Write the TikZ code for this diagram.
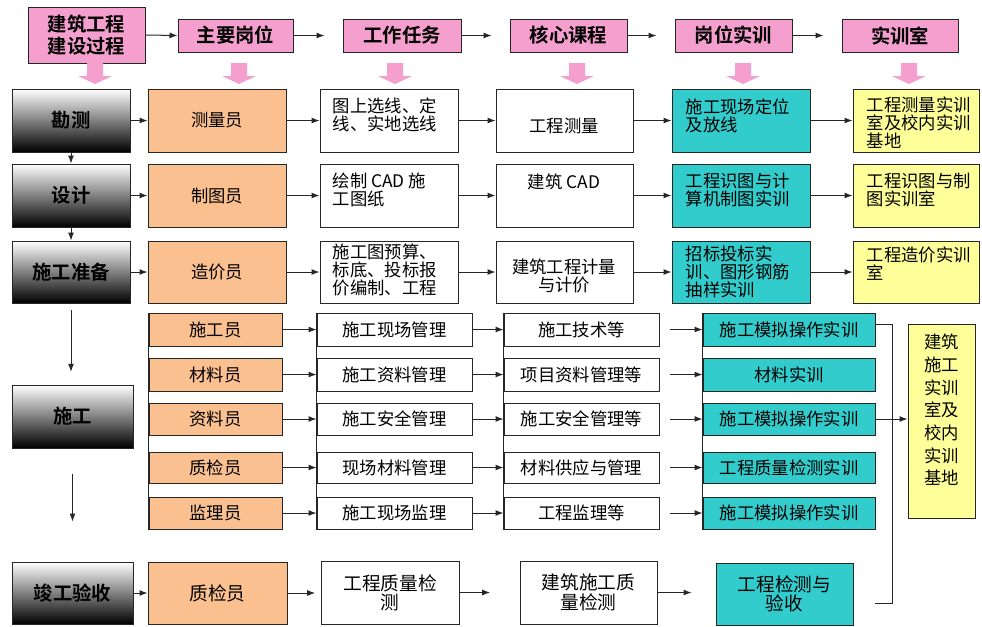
\documentclass[tikz,border=0pt]{standalone}
\usepackage{fontspec}
\setmainfont{Noto Sans CJK SC}[BoldFont={Noto Sans CJK SC Bold}]
\usetikzlibrary{arrows.meta}
\definecolor{pinkc}{HTML}{F59FCF}
\definecolor{tanc}{HTML}{FAC090}
\definecolor{tealc}{HTML}{33CCCC}
\definecolor{yelc}{HTML}{FFFF99}
\newcommand\bx[7]{\node[#2, minimum width={(#5-#3)*0.75pt}, minimum height={(#6-#4)*0.75pt}] (#1) at ({(#3+#5)/2},{(#4+#6)/2}) {#7};}
\newcommand\pdown[1]{\fill[pinkc] ({#1-8},63) -- ({#1+8},63) -- ({#1+8},76) -- ({#1+17},76) -- (#1,84) -- ({#1-17},76) -- ({#1-8},76) -- cycle;}
\begin{document}
\begin{tikzpicture}[x=0.75pt,y=-0.75pt,
  base/.style={draw=black!85, line width=0.75pt, inner sep=1pt, align=center, text=black},
  hdr/.style={base, fill=pinkc, font=\fontsize{14.5}{16.5}\selectfont\bfseries},
  grad/.style={base, top color=white, bottom color=black, font=\fontsize{14.5}{17}\selectfont\bfseries},
  tanb/.style={base, fill=tanc, font=\fontsize{13}{13.5}\selectfont},
  wbox/.style={base, fill=white, font=\fontsize{13}{13.5}\selectfont},
  tealb/.style={base, fill=tealc, font=\fontsize{13}{13.5}\selectfont},
  yelb/.style={base, fill=yelc, font=\fontsize{13}{13.5}\selectfont},
  bot/.style={font=\fontsize{14}{14.5}\selectfont},
  txt/.style={inner sep=0pt, align=left, text=black, font=\fontsize{13}{13.5}\selectfont},
  arr/.style={-{Latex[length=6pt,width=4.5pt]}, line width=0.75pt, draw=black!85},
  ln/.style={line width=0.75pt, draw=black!85}]
\useasboundingbox[fill=white] (0,0) rectangle (982,626);

% header row
\bx{h1}{hdr}{28}{7}{145}{63}{建筑工程\\建设过程}
\bx{h2}{hdr}{178}{19}{293}{52}{主要岗位}
\bx{h3}{hdr}{343}{19}{461}{52}{工作任务}
\bx{h4}{hdr}{510}{19}{627}{52}{核心课程}
\bx{h5}{hdr}{675}{19}{792}{52}{岗位实训}
\bx{h6}{hdr}{842}{19}{958}{52}{实训室}
\draw[arr] (h1.east) -- (h2.west);
\draw[arr, shorten >=13.5pt] (h2) -- (h3);
\draw[arr, shorten >=13.5pt] (h3) -- (h4);
\draw[arr, shorten >=13.5pt] (h4) -- (h5);
\draw[arr, shorten >=13.5pt] (h5) -- (h6);

\pdown{95}\pdown{239}\pdown{395}\pdown{577}\pdown{743}\pdown{909}

% row 1
\bx{k1}{grad}{12}{89}{130}{152}{勘测}
\bx{p1}{tanb}{148}{89}{286}{152}{测量员}
\bx{w1}{wbox}{320}{89}{458}{152}{}
\bx{c1}{wbox}{496}{89}{633}{152}{}
\bx{s1}{tealb}{672}{89}{810}{152}{}
\bx{y1}{yelb}{853}{89}{979}{152}{}
\node[txt, anchor=north west] (w1t) at ([shift={(13,9)}]w1.north west) {图上选线、定\\线、实地选线};
\node[txt] (c1t) at (564,126) {工程测量};
\node[txt, anchor=north west] (s1t) at ([shift={(14,10)}]s1.north west) {施工现场定位\\及放线};
\node[txt, anchor=north west] (y1t) at ([shift={(14,8)}]y1.north west) {工程测量实训\\室及校内实训\\基地};

% row 2
\bx{k2}{grad}{12}{164}{130}{227}{设计}
\bx{p2}{tanb}{148}{164}{286}{227}{制图员}
\bx{w2}{wbox}{320}{164}{458}{227}{}
\bx{c2}{wbox}{496}{164}{633}{227}{}
\bx{s2}{tealb}{672}{164}{810}{227}{}
\bx{y2}{yelb}{853}{164}{979}{227}{}
\node[txt, anchor=north west] (w2t) at ([shift={(13,9)}]w2.north west) {绘制 CAD 施\\工图纸};
\node[txt] (c2t) at (564,182) {建筑 CAD};
\node[txt, anchor=north west] (s2t) at ([shift={(14,9)}]s2.north west) {工程识图与计\\算机制图实训};
\node[txt, anchor=north west] (y2t) at ([shift={(14,9)}]y2.north west) {工程识图与制\\图实训室};

% row 3
\bx{k3}{grad}{12}{241}{130}{303}{施工准备}
\bx{p3}{tanb}{148}{241}{286}{303}{造价员}
\bx{w3}{wbox}{320}{241}{458}{303}{}
\bx{c3}{wbox}{496}{241}{633}{303}{}
\bx{s3}{tealb}{672}{241}{810}{303}{}
\bx{y3}{yelb}{853}{241}{979}{303}{}
\node[txt, anchor=north west] (w3t) at ([shift={(13,3)}]w3.north west) {施工图预算、\\标底、投标报\\价编制、工程};
\node[txt, align=center] (c3t) at (564,276) {建筑工程计量\\与计价};
\node[txt, anchor=north west] (s3t) at ([shift={(14,5)}]s3.north west) {招标投标实\\训、图形钢筋\\抽样实训};
\node[txt, anchor=north west] (y3t) at ([shift={(14,6)}]y3.north west) {工程造价实训\\室};

\foreach \r in {1,2,3}{
  \draw[arr] (k\r) -- (p\r);
  \draw[arr] (p\r) -- (w\r);
  \draw[arr] (w\r) -- (c\r);
  \draw[arr] (c\r) -- (s\r);
  \draw[arr] (s\r) -- (y\r);
}
\draw[arr] (k1) -- (k2);
\draw[arr] (k2) -- (k3);

% construction stage
\bx{k4}{grad}{12}{385}{133}{448}{施工}
\bx{oA}{tanb}{149}{313}{282}{346}{施工员}
\bx{oB}{tanb}{149}{358}{282}{391}{材料员}
\bx{oC}{tanb}{149}{403}{282}{435}{资料员}
\bx{oD}{tanb}{149}{452}{282}{483}{质检员}
\bx{oE}{tanb}{149}{497}{282}{529}{监理员}
\bx{aA}{wbox}{317}{313}{472}{346}{施工现场管理}
\bx{aB}{wbox}{317}{358}{472}{391}{施工资料管理}
\bx{aC}{wbox}{317}{403}{472}{435}{施工安全管理}
\bx{aD}{wbox}{317}{452}{472}{483}{现场材料管理}
\bx{aE}{wbox}{317}{497}{472}{529}{施工现场监理}
\bx{bA}{wbox}{504}{313}{659}{346}{施工技术等}
\bx{bB}{wbox}{504}{358}{659}{391}{项目资料管理等}
\bx{bC}{wbox}{504}{403}{659}{435}{施工安全管理等}
\bx{bD}{wbox}{504}{452}{659}{483}{材料供应与管理}
\bx{bE}{wbox}{504}{497}{659}{529}{工程监理等}
\bx{tA}{tealb}{703}{313}{875}{346}{施工模拟操作实训}
\bx{tB}{tealb}{703}{358}{875}{391}{材料实训}
\bx{tC}{tealb}{703}{403}{875}{435}{施工模拟操作实训}
\bx{tD}{tealb}{703}{452}{875}{483}{工程质量检测实训}
\bx{tE}{tealb}{703}{497}{875}{529}{施工模拟操作实训}
\foreach \c in {o,a,b,t}{
  \draw[ln] (\c A.north west) -- (\c E.south west);
}
\foreach \r in {A,B,C,D,E}{
  \draw[arr] (o\r) -- (a\r);
  \draw[arr] (a\r) -- (b\r);
  \draw[arr, shorten <=8pt] (b\r) -- (t\r);
}
\bx{Y}{yelb}{908}{324}{975}{518}{}
\node[txt, align=center, font=\fontsize{13}{17}\selectfont] (Yt) at (941.5,410) {建筑\\施工\\实训\\室及\\校内\\实训\\基地};

% completion stage
\bx{k5}{grad}{12}{562}{133}{624}{竣工验收}
\bx{p5}{tanb,bot}{148}{562}{287}{624}{质检员}
\bx{w5}{wbox,bot}{321}{561}{459}{624}{工程质量检\\测}
\bx{c5}{wbox,bot}{520}{561}{657}{624}{建筑施工质\\量检测}
\bx{t5}{tealb,bot}{716}{563}{853}{625}{工程检测与\\验收}
\draw[arr] (k5) -- (p5);
\draw[arr, shorten >=4pt] (p5.east) -- (p5.east -| w5.west);
\draw[arr, shorten >=22pt] (w5.east) -- (w5.east -| c5.west);
\draw[arr, shorten >=18pt] (c5.east) -- (c5.east -| t5.west);

\draw[arr, shorten <=5pt, shorten >=9.5pt] (k3.south) -- (k3.south |- k4.north);
\draw[arr, shorten <=18.75pt, shorten >=30pt] (k4.south) -- (k4.south |- k5.north);

% bracket to training base
\coordinate (bt) at (892,324);
\coordinate (bb) at (892,603);
\coordinate (bbl) at (875,603);
\draw[ln] (tA.north east |- bt) -- (bt) -- (bb) -- (bbl);
\draw[arr] (tC.east) -- (tC.east -| Y.west);
\end{tikzpicture}
\end{document}
